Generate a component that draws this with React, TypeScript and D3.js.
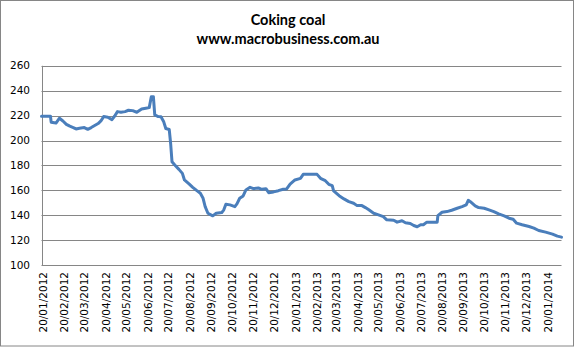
import React from "react";
import * as d3 from "d3";

const dates: string[] = [
  "2012-01-20","2012-02-02","2012-02-03","2012-02-10","2012-02-15","2012-02-20","2012-02-25","2012-03-01",
  "2012-03-06","2012-03-10","2012-03-15","2012-03-22","2012-03-27","2012-04-01","2012-04-06","2012-04-11",
  "2012-04-15","2012-04-19","2012-04-25","2012-05-01","2012-05-05","2012-05-09","2012-05-14","2012-05-20",
  "2012-05-25","2012-05-31","2012-06-06","2012-06-13","2012-06-19","2012-06-24","2012-06-27","2012-06-30",
  "2012-07-02","2012-07-07","2012-07-11","2012-07-15","2012-07-18","2012-07-23","2012-07-25","2012-07-27",
  "2012-07-31","2012-08-06","2012-08-11","2012-08-14","2012-08-21","2012-08-26","2012-09-01","2012-09-06",
  "2012-09-10","2012-09-13","2012-09-17","2012-09-24","2012-09-29","2012-10-07","2012-10-10","2012-10-13",
  "2012-10-19","2012-10-26","2012-10-29","2012-11-02","2012-11-07","2012-11-11","2012-11-17","2012-11-22",
  "2012-11-29","2012-12-04","2012-12-10","2012-12-14","2012-12-21","2012-12-28","2013-01-04","2013-01-09",
  "2013-01-14","2013-01-21","2013-01-29","2013-02-02","2013-02-22","2013-02-27","2013-03-06","2013-03-11",
  "2013-03-16","2013-03-18","2013-03-26","2013-04-02","2013-04-09","2013-04-16","2013-04-21","2013-04-28",
  "2013-05-03","2013-05-08","2013-05-15","2013-05-22","2013-05-29","2013-06-03","2013-06-13","2013-06-18",
  "2013-06-25","2013-06-30","2013-07-07","2013-07-12","2013-07-17","2013-07-22","2013-07-26","2013-07-31",
  "2013-08-15","2013-08-16","2013-08-22","2013-08-29","2013-09-05","2013-09-13","2013-09-20","2013-09-26",
  "2013-09-29","2013-10-02","2013-10-09","2013-10-14","2013-10-22","2013-10-29","2013-11-05","2013-11-12",
  "2013-11-20","2013-11-27","2013-12-03","2013-12-08","2013-12-16","2013-12-26","2014-01-02","2014-01-09",
  "2014-01-19","2014-01-29","2014-02-05","2014-02-11",
];

const prices: number[] = [
  219.5,219.5,214.7,214,217.9,215.7,213,211.5,
  210.4,209.3,209.9,210.4,209,210.4,212,213.6,
  215.7,219.2,218.7,216.8,219.7,223.2,222.7,223.2,
  224.3,224,222.7,225.3,225.9,226.4,235.2,235.2,
  220.5,219.2,219,215,209.6,208.8,197.6,182.9,
  180.3,176.8,173.6,168.3,165,162.4,159.7,157.6,
  153.6,146.9,141.6,139.5,141.6,142.1,144.3,148.8,
  148.3,146.9,149.1,153.6,155.5,160.3,162.4,161.3,
  161.9,160.8,161.3,158.1,158.7,159.7,160.8,161.1,
  165,168.3,169.6,172.8,172.8,169.6,167.7,164.8,
  163.7,159.5,155.7,153.1,150.9,149.6,147.7,147.7,
  146.1,144.3,141.6,140.3,138.9,136.3,136,134.4,
  135.5,133.9,133.3,131.7,130.7,132.3,132.3,134.4,
  134.4,139.7,142.4,142.9,144,145.6,146.9,148.3,
  152,150.9,147.5,146.1,145.6,144.3,142.9,141.1,
  139.5,137.6,136.8,133.6,132.3,130.9,129.6,127.7,
  126.4,124.8,123.2,122.4,
];

const yTicks: number[] = [100, 120, 140, 160, 180, 200, 220, 240, 260];
const xTickLabels: string[] = [
  "20/01/2012","20/02/2012","20/03/2012","20/04/2012","20/05/2012","20/06/2012","20/07/2012",
  "20/08/2012","20/09/2012","20/10/2012","20/11/2012","20/12/2012","20/01/2013","20/02/2013",
  "20/03/2013","20/04/2013","20/05/2013","20/06/2013","20/07/2013","20/08/2013","20/09/2013",
  "20/10/2013","20/11/2013","20/12/2013","20/01/2014",
];
const titleLines: string[] = ["Coking coal", "www.macrobusiness.com.au"];

const W = 577, H = 347;
const left = 41.5, right = 561.5, top = 65.8, bottom = 265;

export default function App() {
  const parse = d3.timeParse("%Y-%m-%d");
  const parseLabel = d3.timeParse("%d/%m/%Y");
  const data = dates.map((d, i) => ({ date: parse(d) as Date, value: prices[i] }));
  const x = d3.scaleTime()
    .domain([data[0].date, data[data.length - 1].date])
    .range([left, right]);
  const y = d3.scaleLinear().domain([100, 260]).range([bottom, top]);
  const line = d3.line<{ date: Date; value: number }>()
    .x(d => x(d.date))
    .y(d => y(d.value))
    .curve(d3.curveLinear);
  const axisFont = "'DejaVu Sans', Verdana, sans-serif";
  return (
    <svg width={W} height={H} style={{ position: "absolute", left: 0, top: 0, background: "#fff" }}>
      <rect x={0.5} y={0.5} width={573} height={345.5} fill="#fff" stroke="#868686" strokeWidth={1} />
      {titleLines.map((t, i) => (
        <text key={t} x={288} y={i === 0 ? 25 : 44} textAnchor="middle"
          fontFamily="Lato, 'Open Sans', sans-serif" fontWeight="bold" fontSize={14.5} fill="#000">{t}</text>
      ))}
      {yTicks.map(v => (
        <g key={v}>
          <line x1={left} x2={right} y1={Math.round(y(v)) + 0.5} y2={Math.round(y(v)) + 0.5} stroke="#868686" strokeWidth={1} />
          <text x={30} y={y(v)} dy="0.35em" textAnchor="end" fontFamily={axisFont} fontSize={10.5} fill="#000">{v}</text>
        </g>
      ))}
      <line x1={Math.round(left) + 0.5} x2={Math.round(left) + 0.5} y1={top} y2={bottom} stroke="#868686" strokeWidth={1} />
      {xTickLabels.map(l => {
        const px = x(parseLabel(l) as Date) + 5.3;
        return (
          <text key={l} transform={`translate(${px},272) rotate(-90)`} textAnchor="end"
            fontFamily={axisFont} fontSize={10.5} fill="#000">{l}</text>
        );
      })}
      <path d={line(data) ?? ""} fill="none" stroke="#4A7EBB" strokeWidth={3} strokeLinejoin="round" strokeLinecap="round" />
    </svg>
  );
}
